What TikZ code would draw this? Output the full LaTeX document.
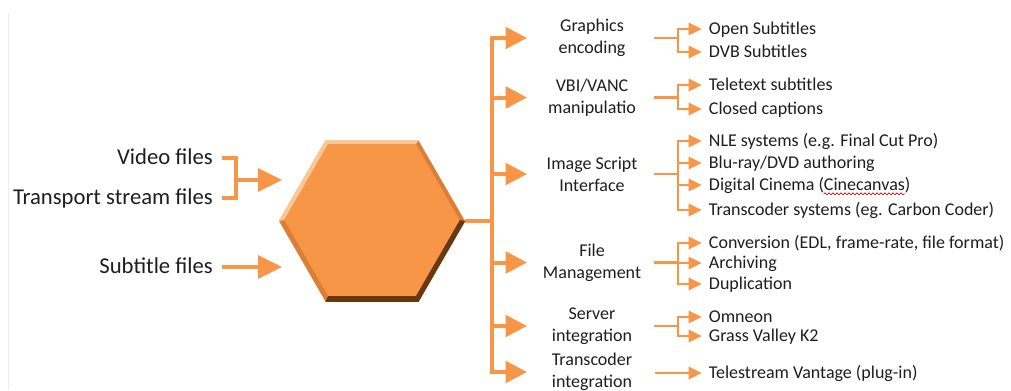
\documentclass[tikz,border=0pt]{standalone}
\usepackage{fontspec}
\setmainfont{Carlito}
\usetikzlibrary{arrows.meta}
\usetikzlibrary{shapes.geometric}
\usetikzlibrary{decorations.pathmorphing}

\definecolor{hexorange}{HTML}{F79646}
\definecolor{hexlight}{HTML}{FCC796}
\definecolor{hexmid}{HTML}{DB7E37}
\definecolor{hexdark}{HTML}{6A380E}
\definecolor{labeltext}{HTML}{1E1E1E}

\newcommand\targetfont{\fontsize{13.5}{16.5}\selectfont}
\newlength\cinepre
\newlength\cineword

\begin{document}
\settowidth\cinepre{\targetfont Digital Cinema (}%
\settowidth\cineword{\targetfont Cinecanvas}%
\begin{tikzpicture}[x=0.75pt,y=-0.75pt,
  flow/.style={draw=hexorange,line width=3pt},
  inarrow/.style={flow,-{Triangle[length=18pt,width=17pt]}},
  branch/.style={flow,-{Triangle[length=16pt,width=16pt]}},
  stem/.style={draw=hexorange,line width=2.2pt},
  leaf/.style={stem,-{Triangle[length=10pt,width=9pt]}},
  source/.style={anchor=east,inner xsep=6.75pt,text=labeltext,
    font=\fontsize{17}{20}\selectfont,text height=12pt,text depth=3pt},
  task/.style={align=center,text=labeltext,font=\targetfont},
  target/.style={anchor=west,inner xsep=5pt,text=labeltext,
    font=\targetfont,text height=10pt,text depth=2pt},
  spellwave/.style={draw=red!85!black,line width=0.5pt,decorate,
    decoration={snake,amplitude=0.7pt,segment length=3pt}}]
\useasboundingbox (0,0) rectangle (1011,390);
\draw[black!8,line width=0.75pt] (8,13) -- (8,390);
%
% inputs
\node[source] (video) at (222,158) {Video files};
\node[source] (transport) at (222,198) {Transport stream files};
\node[source] (subtitle) at (222,267) {Subtitle files};
\coordinate (brk) at (236,180);
\coordinate (inA) at (282,180);
\coordinate (inB) at (282,267);
\draw[flow] (video.east) -| (brk) |- (transport.east);
\draw[inarrow] (brk) -- (inA);
\draw[inarrow] (subtitle.east) -- (inB);
%
% hexagon
\node[regular polygon,regular polygon sides=6,minimum size=139.5pt,
  inner sep=0pt,fill=hexmid] (core) at (372,221) {};
\node[regular polygon,regular polygon sides=6,minimum size=131pt,
  inner sep=0pt] (coreface) at (372,220) {};
\fill[hexdark] (core.240) -- (core.300) -- (core.0) -- (coreface.0)
  -- (coreface.300) -- (coreface.240) -- cycle;
\fill[hexlight] (core.180) -- (core.120) -- (core.60) -- (coreface.60)
  -- (coreface.120) -- (coreface.180) -- cycle;
\fill[hexorange] (coreface.0) -- (coreface.60) -- (coreface.120)
  -- (coreface.180) -- (coreface.240) -- (coreface.300) -- cycle;
%
% tasks
\node[task] (gfx) at (592,38) {Graphics\\encoding};
\node[task] (vbi) at (592,97.5) {VBI/VANC\\manipulatio};
\node[task] (img) at (592,174) {Image Script\\Interface};
\node[task] (file) at (592,262.5) {File\\Management};
\node[task] (srv) at (592,326) {Server\\integration};
\node[task] (trc) at (592,372) {Transcoder\\integration};
%
\coordinate (trunk) at (492,221);
\coordinate (tipx) at (527,0);
\coordinate (stemx) at (655,0);
\coordinate (forkx) at (678,0);
\draw[flow] (core.east) -- (trunk);
\draw[flow,line cap=rect] (trunk |- gfx) -- (trunk |- trc);
\draw[branch] (trunk |- gfx) -- (tipx |- gfx);
\draw[branch] (trunk |- vbi) -- (tipx |- vbi);
\draw[branch] (trunk |- img) -- (tipx |- img);
\draw[branch] (trunk |- file) -- (tipx |- file);
\draw[branch] (trunk |- srv) -- (tipx |- srv);
\draw[branch] (trunk |- trc) -- (tipx |- trc);
%
% targets
\node[target] (opensub) at (702,29) {Open Subtitles};
\node[target] (dvbsub) at (702,52) {DVB Subtitles};
\node[target] (teletext) at (702,85) {Teletext subtitles};
\node[target] (closedcap) at (702,109) {Closed captions};
\node[target] (nle) at (702,141) {NLE systems (e.g. Final Cut Pro)};
\node[target] (bluray) at (702,163) {Blu-ray/DVD authoring};
\node[target] (cinema) at (702,185) {Digital Cinema (Cinecanvas)};
\node[target] (transcoder) at (702,210) {Transcoder systems (eg. Carbon Coder)};
\node[target] (conversion) at (702,243) {Conversion (EDL, frame-rate, file format)};
\node[target] (archiving) at (702,263) {Archiving};
\node[target] (duplication) at (702,284) {Duplication};
\node[target] (omneon) at (702,317) {Omneon};
\node[target] (grassvalley) at (702,336) {Grass Valley K2};
\node[target] (vantage) at (702,373) {Telestream Vantage (plug-in)};
%
% spell-check squiggle under Cinecanvas
\coordinate (cineA) at ([xshift=5pt+\cinepre,yshift=-2.6pt]cinema.base west);
\coordinate (cineB) at ([xshift=\cineword]cineA);
\draw[spellwave] (cineA) -- (cineB);
%
\draw[stem,line cap=rect] (stemx |- gfx) -- (forkx |- gfx);
\draw[leaf] (forkx |- gfx) |- (opensub.west);
\draw[leaf] (forkx |- gfx) |- (dvbsub.west);
\draw[stem,line cap=rect] (stemx |- vbi) -- (forkx |- vbi);
\draw[leaf] (forkx |- vbi) |- (teletext.west);
\draw[leaf] (forkx |- vbi) |- (closedcap.west);
\draw[stem,line cap=rect] (stemx |- img) -- (forkx |- img);
\draw[leaf] (forkx |- img) |- (nle.west);
\draw[leaf] (forkx |- img) |- (bluray.west);
\draw[leaf] (forkx |- img) |- (cinema.west);
\draw[leaf] (forkx |- img) |- (transcoder.west);
\draw[stem,line cap=rect] (stemx |- file) -- (forkx |- file);
\draw[leaf] (forkx |- file) |- (conversion.west);
\draw[leaf] (forkx |- file) |- (archiving.west);
\draw[leaf] (forkx |- file) |- (duplication.west);
\draw[stem,line cap=rect] (stemx |- srv) -- (forkx |- srv);
\draw[leaf] (forkx |- srv) |- (omneon.west);
\draw[leaf] (forkx |- srv) |- (grassvalley.west);
\draw[leaf] (stemx |- vantage) -- (vantage.west);
\end{tikzpicture}
\end{document}
